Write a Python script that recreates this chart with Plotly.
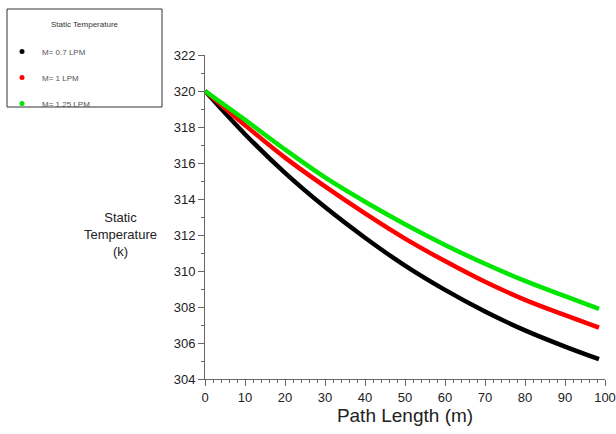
import plotly.graph_objects as go

path_length = [0, 10, 20, 30, 40, 50, 60, 70, 80, 90, 98.5]
temp_07 = [320, 317.6, 315.45, 313.55, 311.85, 310.3, 308.95, 307.75, 306.7, 305.8, 305.1]
temp_10 = [320, 318.1, 316.3, 314.7, 313.2, 311.8, 310.55, 309.4, 308.4, 307.55, 306.85]
temp_125 = [320, 318.4, 316.75, 315.2, 313.85, 312.6, 311.45, 310.4, 309.45, 308.6, 307.9]

series_names = ["M= 0.7 LPM", "M= 1 LPM", "M= 1.25 LPM"]
series_colors = ["#000000", "#ff0000", "#00e600"]
series_values = [temp_07, temp_10, temp_125]

x_ticks = [0, 10, 20, 30, 40, 50, 60, 70, 80, 90, 100]
y_ticks = [304, 306, 308, 310, 312, 314, 316, 318, 320, 322]

FONT = "Arial, Liberation Sans, sans-serif"

fig = go.Figure()
for name, color, vals in zip(series_names, series_colors, series_values):
    fig.add_trace(go.Scatter(
        x=path_length, y=vals, mode="lines",
        line=dict(color=color, width=4.5, shape="spline"),
        showlegend=False,
    ))
for i, (name, color) in enumerate(zip(series_names, series_colors)):
    fig.add_trace(go.Scatter(
        x=[None], y=[None], mode="markers", name=name,
        marker=dict(color=color, size=5),
        legendgroup=f"g{i}", showlegend=True,
    ))

axis_common = dict(
    showline=True, linecolor="#666666", linewidth=1,
    ticks="outside", ticklen=6, tickcolor="#666666",
    showgrid=False, zeroline=False,
    tickfont=dict(family=FONT, size=13, color="#222222"),
)

fig.update_xaxes(
    range=[0, 100], tickvals=x_ticks,
    minor=dict(dtick=2, ticks="outside", ticklen=3, tickcolor="#666666"),
    title=dict(text="Path Length (m)", font=dict(family=FONT, size=19, color="#222222"), standoff=0),
    **axis_common,
)
fig.update_yaxes(
    range=[304, 322], tickvals=y_ticks,
    minor=dict(dtick=1, ticks="outside", ticklen=3, tickcolor="#666666"),
    **axis_common,
)

fig.add_annotation(
    text="Static<br>Temperature<br>(k)", xref="paper", yref="paper",
    x=(120 - 205) / 400, y=(379 - 234) / 324, showarrow=False,
    xanchor="center", yanchor="middle",
    font=dict(family=FONT, size=13, color="#222222"), align="center",
)

fig.add_annotation(
    text="Static Temperature", xref="paper", yref="paper",
    x=(85 - 205) / 400, y=(379 - 24) / 324, showarrow=False,
    xanchor="center", yanchor="middle",
    font=dict(family=FONT, size=8, color="#333333"),
)

fig.add_shape(
    type="rect", xref="paper", yref="paper",
    x0=(7 - 205) / 400, x1=(162 - 205) / 400,
    y0=(379 - 107) / 324, y1=(379 - 9) / 324,
    line=dict(color="#333333", width=1),
)

fig.update_layout(
    width=616, height=434,
    margin=dict(l=205, r=11, t=55, b=55, autoexpand=False),
    plot_bgcolor="white", paper_bgcolor="white",
    legend=dict(
        x=(2 - 205) / 400, y=(379 - 37) / 324, xanchor="left", yanchor="top",
        bgcolor="rgba(0,0,0,0)", borderwidth=0,
        font=dict(family=FONT, size=8, color="#555555"),
        itemsizing="trace", tracegroupgap=7,
    ),
)

fig.write_html("out.html")
